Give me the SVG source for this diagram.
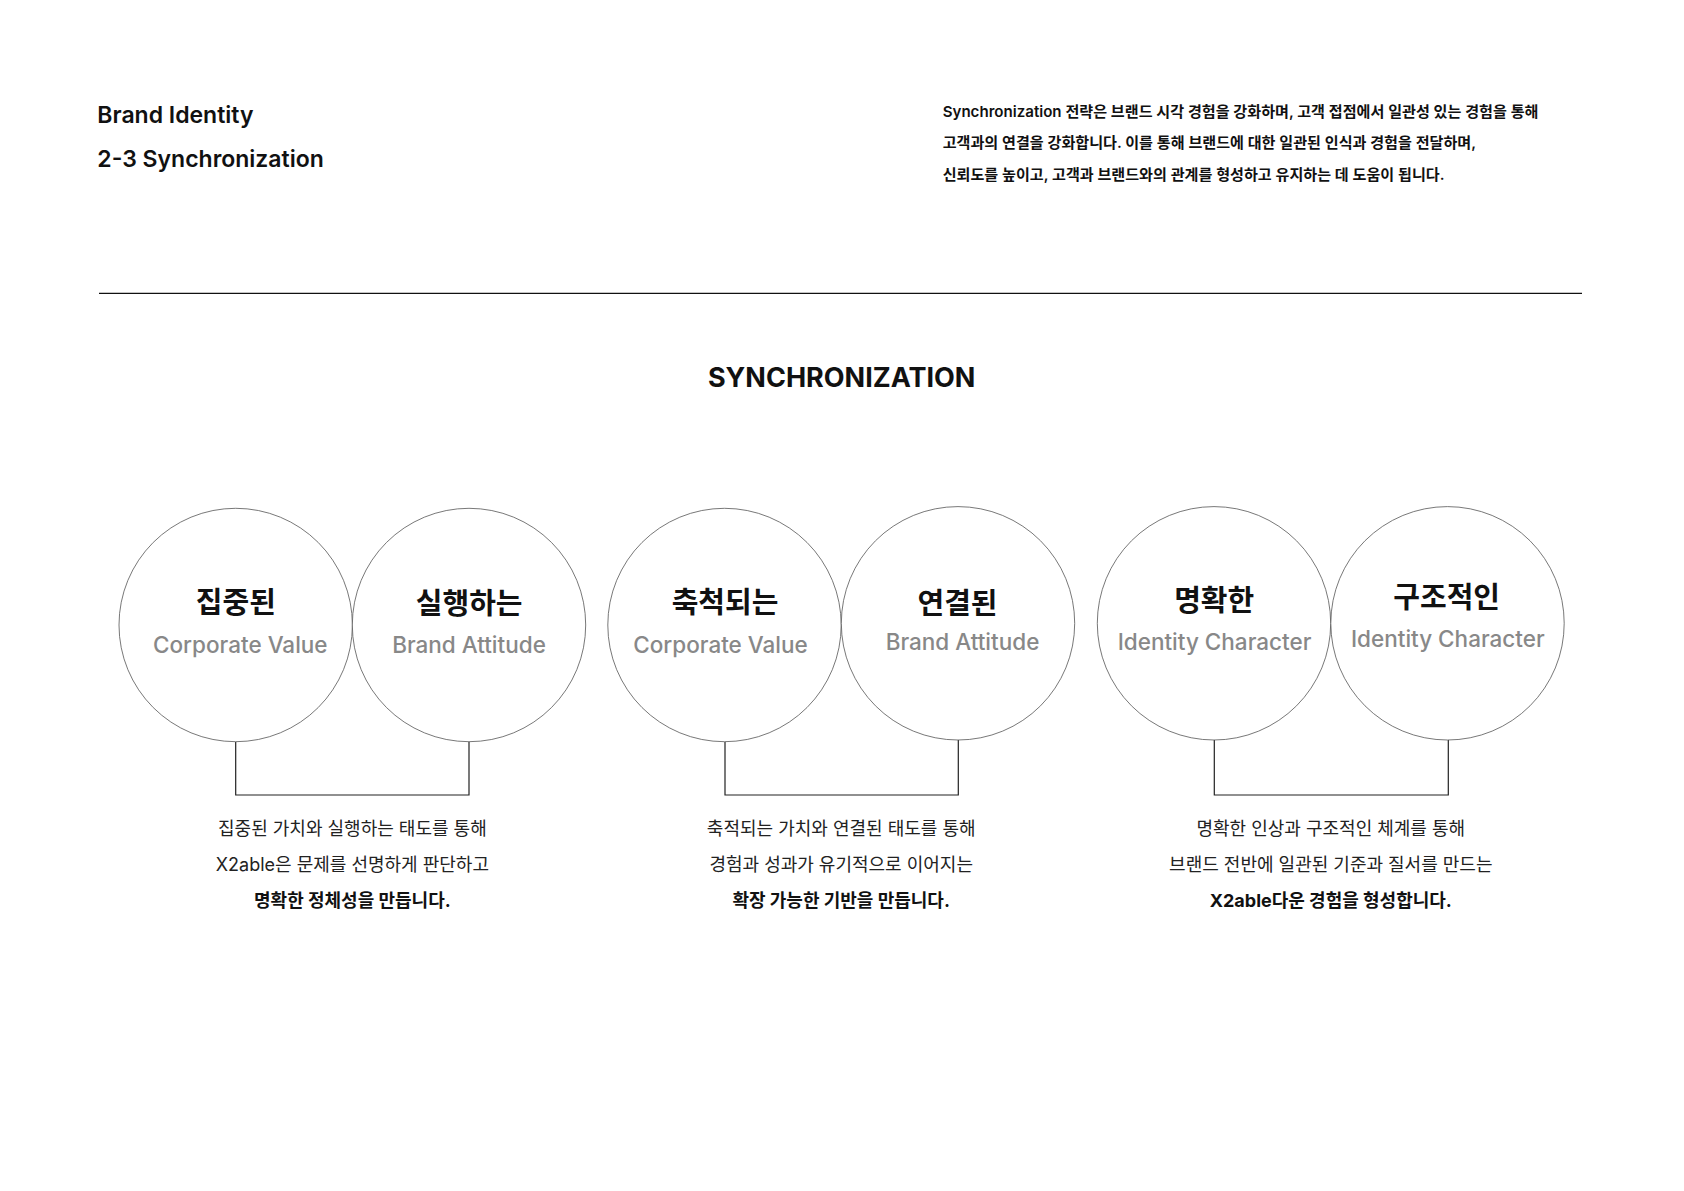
<svg xmlns="http://www.w3.org/2000/svg" width="1684" height="1191" viewBox="0 0 1684 1191">
<style>
  .hdr { font-family: Inter, "Noto Sans CJK KR", sans-serif; font-size: 23px; font-weight: 600; fill: #111; }
  .para { font-family: Inter, "Noto Sans CJK KR", sans-serif; font-size: 15.1px; font-weight: 600; fill: #111; }
  .big { font-family: Inter, "Noto Sans CJK KR", sans-serif; font-size: 27px; font-weight: 700; fill: #111; text-anchor: middle; }
  .ring { fill: #fff; stroke: #555; stroke-width: 0.8; }
  .title { font-family: "Noto Sans CJK KR", sans-serif; font-size: 29px; font-weight: 700; fill: #111; text-anchor: middle; }
  .sub { font-family: Inter, "Noto Sans CJK KR", sans-serif; font-size: 22.5px; font-weight: 500; fill: #888; text-anchor: middle; }
  .desc { font-family: Inter, "Noto Sans CJK KR", sans-serif; font-size: 18px; font-weight: 400; fill: #222; text-anchor: middle; }
  .descb { font-family: Inter, "Noto Sans CJK KR", sans-serif; font-size: 18px; font-weight: 700; fill: #111; text-anchor: middle; }
  .conn { fill: none; stroke: #222; stroke-width: 1.2; }
  .rule { stroke: #111; stroke-width: 1.3; }
</style>
<rect width="1684" height="1191" fill="#fff"/>

<g id="header">
  <text class="hdr" x="97.3" y="123.3">Brand Identity</text>
  <text class="hdr" x="97.3" y="167.3">2-3 Synchronization</text>
  <text class="para" x="942.7" y="116.7">Synchronization 전략은 브랜드 시각 경험을 강화하며, 고객 접점에서 일관성 있는 경험을 통해</text>
  <text class="para" x="942.7" y="148.3">고객과의 연결을 강화합니다. 이를 통해 브랜드에 대한 일관된 인식과 경험을 전달하며,</text>
  <text class="para" x="942.7" y="180">신뢰도를 높이고, 고객과 브랜드와의 관계를 형성하고 유지하는 데 도움이 됩니다.</text>
  <line class="rule" x1="99" y1="293.3" x2="1582" y2="293.3"/>
  <text class="big" x="841.7" y="386.7">SYNCHRONIZATION</text>
</g>

<g id="connectors">
  <path class="conn" d="M235.7 741.7 V795 H469 V741.7"/>
  <path class="conn" d="M725 741.7 V795 H958.3 V740"/>
  <path class="conn" d="M1214.3 740 V795 H1448.3 V740"/>
</g>

<g id="node-focused">
  <circle class="ring" cx="235.7" cy="625" r="116.7"/>
  <text class="title" x="235.8" y="613">집중된</text>
  <text class="sub" x="240.3" y="653.3">Corporate Value</text>
</g>
<g id="node-executing">
  <circle class="ring" cx="469" cy="625" r="116.7"/>
  <text class="title" x="469.2" y="614">실행하는</text>
  <text class="sub" x="469" y="653">Brand Attitude</text>
</g>
<g id="node-accumulating">
  <circle class="ring" cx="724.5" cy="625" r="116.7"/>
  <text class="title" x="725" y="613">축척되는</text>
  <text class="sub" x="720.5" y="653">Corporate Value</text>
</g>
<g id="node-connected">
  <circle class="ring" cx="958" cy="623.3" r="116.7"/>
  <text class="title" x="957.5" y="614">연결된</text>
  <text class="sub" x="962.5" y="650">Brand Attitude</text>
</g>
<g id="node-clear">
  <circle class="ring" cx="1214" cy="623.3" r="116.7"/>
  <text class="title" x="1214.2" y="611">명확한</text>
  <text class="sub" x="1214.5" y="650">Identity Character</text>
</g>
<g id="node-structural">
  <circle class="ring" cx="1447.5" cy="623.3" r="116.7"/>
  <text class="title" x="1446.7" y="607.5">구조적인</text>
  <text class="sub" x="1447.8" y="646.7">Identity Character</text>
</g>

<g id="desc-1">
  <text class="desc" x="352.4" y="835">집중된 가치와 실행하는 태도를 통해</text>
  <text class="desc" x="352.4" y="871">X2able은 문제를 선명하게 판단하고</text>
  <text class="descb" x="352.4" y="906.5">명확한 정체성을 만듭니다.</text>
</g>
<g id="desc-2">
  <text class="desc" x="841.2" y="835">축적되는 가치와 연결된 태도를 통해</text>
  <text class="desc" x="841.2" y="871">경험과 성과가 유기적으로 이어지는</text>
  <text class="descb" x="841.2" y="906.5">확장 가능한 기반을 만듭니다.</text>
</g>
<g id="desc-3">
  <text class="desc" x="1330.8" y="835">명확한 인상과 구조적인 체계를 통해</text>
  <text class="desc" x="1330.8" y="871">브랜드 전반에 일관된 기준과 질서를 만드는</text>
  <text class="descb" x="1330.8" y="906.5">X2able다운 경험을 형성합니다.</text>
</g>
</svg>
